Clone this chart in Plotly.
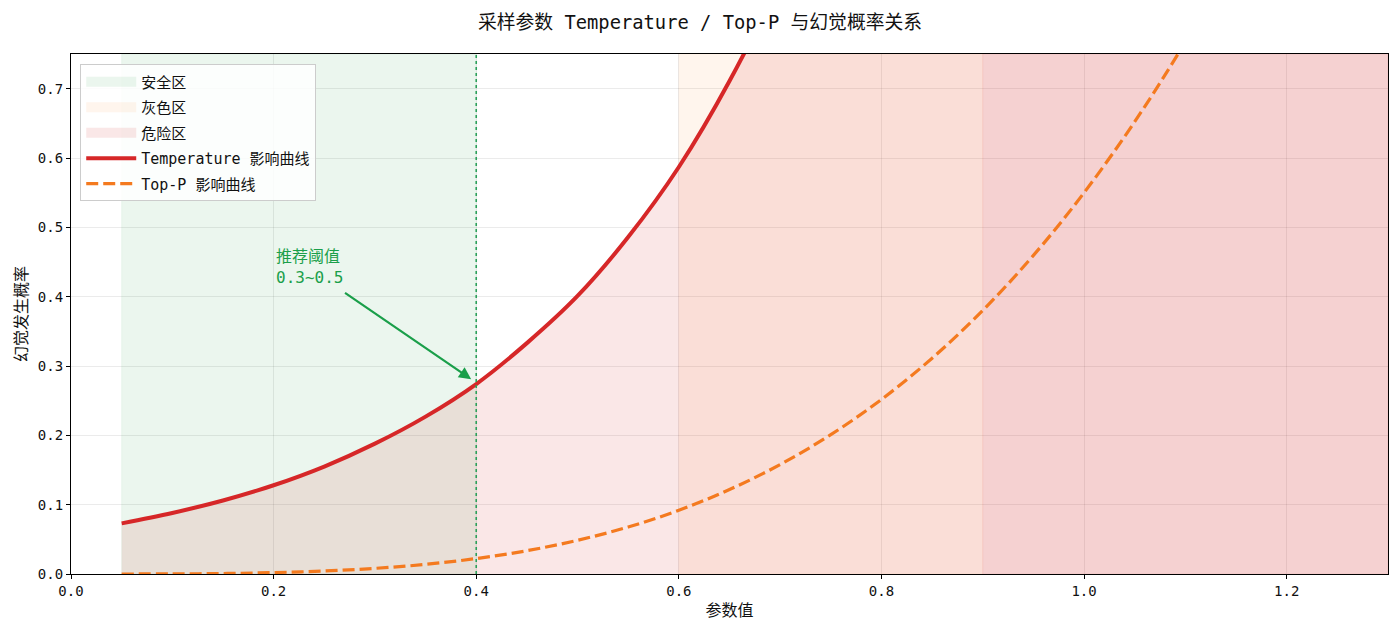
import plotly.graph_objects as go

# ---- data ----
param_x = [0.05, 0.10, 0.15, 0.20, 0.25, 0.30, 0.35, 0.40, 0.45, 0.50, 0.55, 0.60,
           0.65, 0.70, 0.75, 0.80, 0.85, 0.90, 0.95, 1.00, 1.05, 1.10, 1.15, 1.20, 1.25, 1.30]
temperature_prob = [0.073, 0.088, 0.106, 0.128, 0.155, 0.188, 0.227, 0.274, 0.333, 0.401, 0.486, 0.587,
                    0.711, 0.858, 1.04, 1.26, 1.52, 1.84, 2.23, 2.69, 3.25, 3.93, 4.76, 5.75, 6.95, 8.40]
top_p_prob = [0.0000, 0.0002, 0.0007, 0.0020, 0.0043, 0.0081, 0.0139, 0.0223, 0.0336, 0.0486, 0.0678, 0.0919,
              0.1218, 0.1579, 0.2010, 0.2518, 0.3113, 0.3803, 0.4595, 0.5500, 0.6524, 0.7677, 0.8966, 1.040, 1.200, 1.378]

zone_names = ["安全区", "灰色区", "危险区"]
zone_start = [0.05, 0.6, 0.9]
zone_end = [0.4, 0.9, 1.3]
zone_colors = ["rgba(44,160,70,0.095)", "rgba(250,130,30,0.08)", "rgba(214,39,40,0.11)"]

threshold_x = 0.4
annot_text = "推荐阈值<br>0.3~0.5"
annot_head = (0.395, 0.281)
annot_tail = (0.27, 0.406)
annot_text_pos = (0.200, 0.475)

x_range = [0, 1.3]
y_range = [0, 0.75]
x_ticks = [0.0, 0.2, 0.4, 0.6, 0.8, 1.0, 1.2]
y_ticks = [0.0, 0.1, 0.2, 0.3, 0.4, 0.5, 0.6, 0.7]

FONT = "DejaVu Sans Mono, Noto Sans CJK SC, sans-serif"
GREEN = "#1a9f4a"

fig = go.Figure()

for i, (name, s, e, c) in enumerate(zip(zone_names, zone_start, zone_end, zone_colors)):
    fig.add_trace(go.Scatter(
        x=[s, e, e, s, s], y=[y_range[0], y_range[0], y_range[1], y_range[1], y_range[0]],
        fill="toself", fillcolor=c, mode="lines", line=dict(width=0.6, color=c),
        name=name, legendgroup=f"g{i}", showlegend=False, hoverinfo="skip"))
    # legend proxy (no data) giving a patch-like legend swatch
    fig.add_trace(go.Scatter(
        x=[None], y=[None], mode="lines", line=dict(width=10, color=c),
        name=name, legendgroup=f"g{i}", showlegend=True, hoverinfo="skip"))

fig.add_trace(go.Scatter(
    x=param_x, y=temperature_prob, mode="lines", line=dict(width=0, shape="spline", smoothing=1.0),
    fill="tozeroy", fillcolor="rgba(214,39,40,0.11)", showlegend=False, hoverinfo="skip"))

fig.add_trace(go.Scatter(
    x=param_x, y=temperature_prob, mode="lines", name="Temperature 影响曲线", legendgroup="g3",
    line=dict(color="#d62728", width=4, shape="spline", smoothing=1.0)))

fig.add_trace(go.Scatter(
    x=param_x, y=top_p_prob, mode="lines", name="Top-P 影响曲线", legendgroup="g4",
    line=dict(color="#f47a1f", width=3.2, dash="12px,5px", shape="spline", smoothing=1.0)))

fig.add_shape(type="line", x0=threshold_x, x1=threshold_x, xref="x", y0=0, y1=1, yref="paper",
              line=dict(color="#2ca05a", width=1.6, dash="dot"), layer="above")

fig.add_annotation(x=annot_head[0], y=annot_head[1], ax=annot_tail[0], ay=annot_tail[1],
                   axref="x", ayref="y", xref="x", yref="y", text="", showarrow=True,
                   font=dict(size=1), borderpad=0,
                   arrowhead=2, arrowsize=1.1, arrowwidth=2.2, arrowcolor=GREEN)
fig.add_annotation(x=annot_text_pos[0], y=annot_text_pos[1], xref="x", yref="y",
                   text=annot_text, showarrow=False, xanchor="left", yanchor="top", align="left",
                   font=dict(family=FONT, size=16, color=GREEN))

fig.update_layout(
    width=1400, height=634,
    margin=dict(l=71, r=12, t=54, b=60),
    paper_bgcolor="white", plot_bgcolor="white",
    font=dict(family=FONT, size=14, color="#111"),
    title=dict(text="采样参数 Temperature / Top-P 与幻觉概率关系", x=0.5, xanchor="center",
               y=0.965, yanchor="middle", font=dict(family=FONT, size=18.8, color="#111")),
    legend=dict(x=0.007, y=0.98, xanchor="left", yanchor="top",
                bgcolor="rgba(255,255,255,0.85)", bordercolor="#cccccc", borderwidth=1,
                font=dict(family=FONT, size=15, color="#111"), itemwidth=50, tracegroupgap=3,
                traceorder="grouped"),
    showlegend=True,
)
fig.update_xaxes(range=x_range, tickvals=x_ticks, tickformat=".1f", showgrid=True,
                 gridcolor="rgba(0,0,0,0.08)", zeroline=False, showline=True, linecolor="black",
                 linewidth=1.2, mirror=True, ticks="outside", ticklen=4, tickcolor="black",
                 tickfont=dict(size=14),
                 title=dict(text="参数值", font=dict(family=FONT, size=16), standoff=6))
fig.update_yaxes(range=y_range, tickvals=y_ticks, tickformat=".1f", showgrid=True,
                 gridcolor="rgba(0,0,0,0.08)", zeroline=False, showline=True, linecolor="black",
                 linewidth=1.2, mirror=True, ticks="outside", ticklen=4, tickcolor="black",
                 tickfont=dict(size=14),
                 title=dict(text="幻觉发生概率", font=dict(family=FONT, size=16), standoff=6))

fig.write_html("out.html")
